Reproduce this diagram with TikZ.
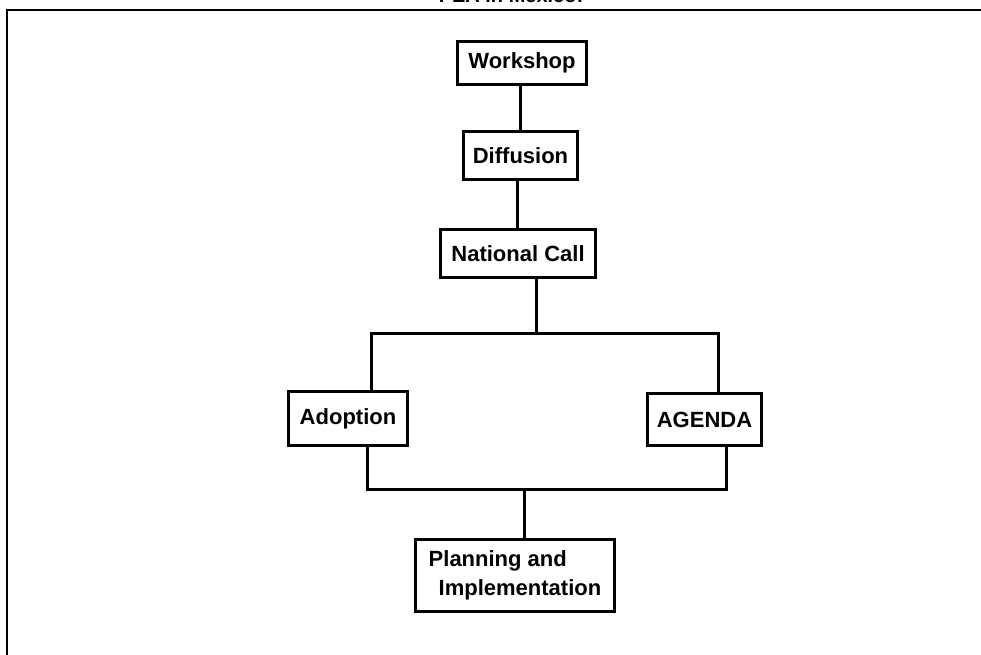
\documentclass[tikz,border=0pt]{standalone}
\usepackage{fontspec}
\setmainfont{Liberation Sans}
\begin{document}
\begin{tikzpicture}[x=1pt,y=-1pt,
  box/.style={draw,line width=3pt,inner sep=0pt,font=\bfseries\fontsize{22}{29}\selectfont},
  conn/.style={line width=3pt}]
\useasboundingbox (0,0) rectangle (981,654);
\clip (0,0) rectangle (981,654);
\fill[white] (0,0) rectangle (981,654);
% title (cut off at the top)
\node[font=\bfseries\fontsize{20}{24}\selectfont,anchor=base,inner sep=0pt] (title) at (511,2) {PEA in Mexico:};
% frame
\draw[line width=2pt] (7,660) -- (7,10) -- (990,10);
% boxes
\node[box,minimum width=129pt,minimum height=43pt] (wk) at (522,63) {Workshop};
\node[box,minimum width=114pt,minimum height=48pt] (df) at (520.5,155.5) {Diffusion};
\node[box,minimum width=155pt,minimum height=48pt] (nc) at (518,253.5) {National Call};
\node[box,minimum width=119pt,minimum height=54pt] (ad) at (348,418.5) {Adoption};
\node[box,minimum width=114pt,minimum height=52pt] (ag) at (704.5,419.5) {AGENDA};
\node[box,minimum width=199pt,minimum height=72pt,align=left] (pl) at (515,575.5) {Planning and\\\hspace*{10pt}Implementation};
% junctions
\coordinate (j1) at (536,333);
\coordinate (j2) at (524,489);
% connectors
\draw[conn] (df.north) -- (df.north |- wk.south);
\draw[conn] ([xshift=-3.5pt]df.south) -- ([xshift=-3.5pt]df.south |- nc.north);
\draw[conn] (nc.south -| j1) -- (j1);
\draw[conn] ([xshift=23pt]ad.north) |- (j1) -| ([xshift=13.5pt]ag.north);
\draw[conn] ([xshift=19pt]ad.south) |- (j2) -| ([xshift=21.5pt]ag.south);
\draw[conn] (j2) -- (pl.north -| j2);
\end{tikzpicture}
\end{document}
